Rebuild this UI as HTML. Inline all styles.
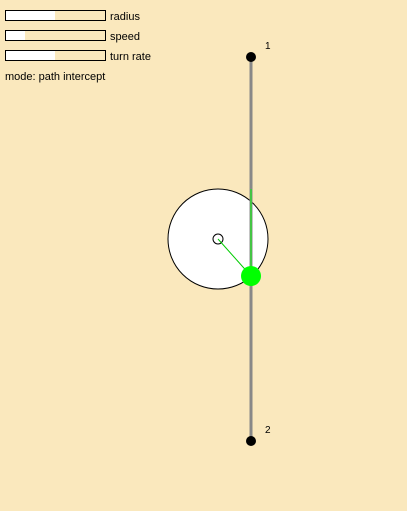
<!DOCTYPE html>
<html><head><meta charset="utf-8"><style>
body{margin:0;background:#fae8bd;width:407px;height:511px;overflow:hidden;font-family:"Liberation Sans",sans-serif}
svg{position:absolute;left:0;top:0}
</style></head><body>
<svg width="407" height="511">
<g>
<rect x="5.5" y="10.5" width="100" height="10" fill="none" stroke="#000"/>
<rect x="6" y="11" width="49" height="9" fill="#fff"/>
<text x="110" y="20" font-size="11">radius</text></g>
<g>
<rect x="5.5" y="30.5" width="100" height="10" fill="none" stroke="#000"/>
<rect x="6" y="31" width="19" height="9" fill="#fff"/>
<text x="110" y="40" font-size="11">speed</text></g>
<g>
<rect x="5.5" y="50.5" width="100" height="10" fill="none" stroke="#000"/>
<rect x="6" y="51" width="49" height="9" fill="#fff"/>
<text x="110" y="60" font-size="11">turn rate</text></g>
<text x="5" y="80" font-size="11">mode: path intercept</text>
<circle cx="218" cy="239" r="50" fill="#fff" stroke="#000"/>
<line x1="251" y1="57" x2="251" y2="441" stroke="#888" stroke-width="3"/>
<line x1="251" y1="189" x2="251" y2="276" stroke="#0f0" stroke-width="1"/>
<circle cx="218" cy="239" r="5" fill="#fff" stroke="#000"/>
<line x1="218" y1="239" x2="251" y2="276" stroke="#0c0" stroke-width="1"/>
<circle cx="251" cy="276" r="10" fill="#0f0"/>
<circle cx="251" cy="57" r="5" fill="#000"/>
<circle cx="251" cy="441" r="5" fill="#000"/>
<text x="265" y="49" font-size="10">1</text>
<text x="265" y="433" font-size="10">2</text>
</svg>
</body></html>
